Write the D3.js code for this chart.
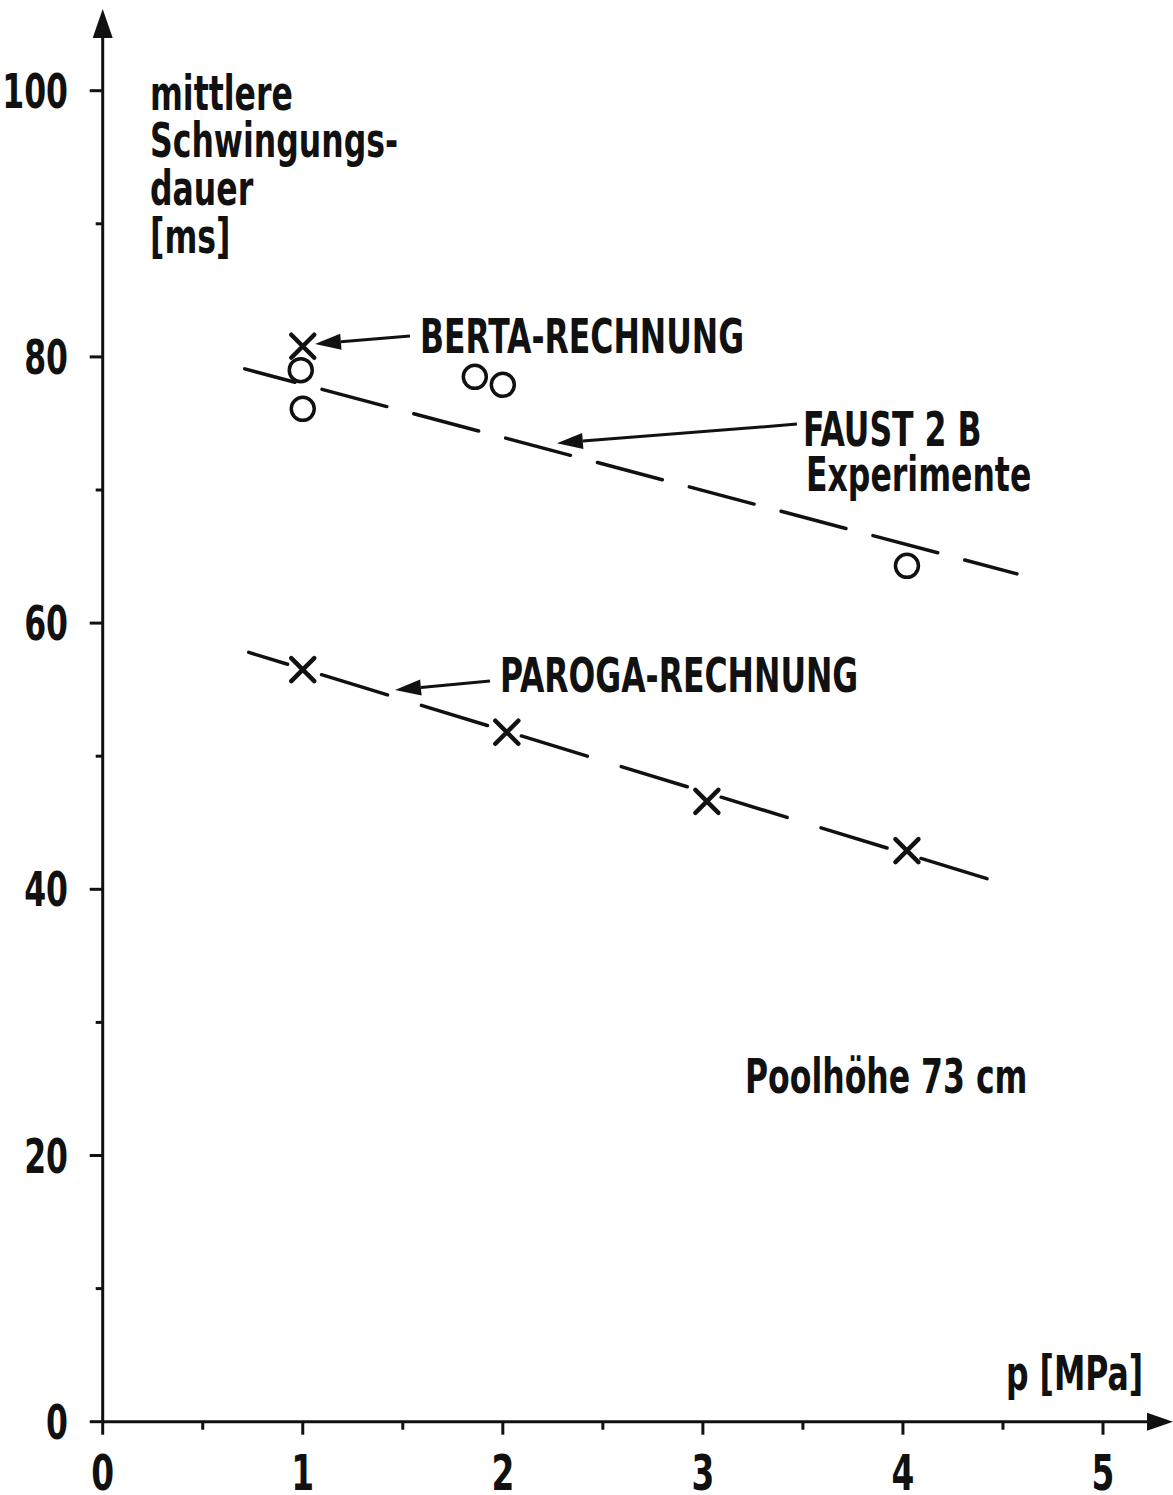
<!DOCTYPE html>
<html>
<head>
<meta charset="utf-8">
<script src="https://cdn.jsdelivr.net/npm/d3@7"></script>
<style>
  body { margin: 0; background: #fff; }
  svg text { font-family: "Liberation Sans Narrow", "DejaVu Sans Condensed", "Liberation Sans", sans-serif; font-weight: bold; fill: #111; }
</style>
</head>
<body>
<svg id="chart" width="1173" height="1495"></svg>
<script>
// FAUST 2B experiments (circles)
var faustP = [0.99, 1.0, 1.86, 2.0, 4.02];
var faustT = [79.0, 76.1, 78.5, 77.9, 64.3];
// BERTA calculation (cross)
var bertaP = [1.0];
var bertaT = [80.8];
// PAROGA calculation (crosses)
var parogaP = [1.0, 2.02, 3.02, 4.02];
var parogaT = [56.5, 51.8, 46.6, 42.9];
// dashed trend lines
var faustFitP = [0.71, 4.57];
var faustFitT = [79.1, 63.7];
var parogaFitP = [0.73, 4.42];
var parogaFitT = [57.8, 40.8];

var xTicks = [0, 1, 2, 3, 4, 5];
var xMinor = [0.5, 1.5, 2.5, 3.5, 4.5];
var yTicks = [0, 20, 40, 60, 80, 100];
var yMinor = [10, 30, 50, 70, 90];

var x = d3.scaleLinear().domain([0, 5]).range([102.7, 1103]);
var y = d3.scaleLinear().domain([0, 100]).range([1421.7, 90.7]);

var svg = d3.select("#chart");
var sx = 0.73; // squeeze the condensed font to the narrow lettering of the original

function label(txt, px, py, size, anchor) {
  var g = svg.append("g")
      .attr("transform", "translate(" + px + "," + py + ") scale(" + sx + ",1)");
  g.append("text")
      .attr("font-size", size)
      .attr("text-anchor", anchor || "start")
      .text(txt);
  return g;
}

// axes
var axis = svg.append("g").attr("stroke", "#111").attr("stroke-width", 3);
axis.append("line")
    .attr("x1", x(0)).attr("x2", 1150)
    .attr("y1", y(0)).attr("y2", y(0));
axis.append("line")
    .attr("x1", x(0)).attr("x2", x(0))
    .attr("y1", y(0)).attr("y2", 36);

svg.append("path")
    .attr("d", "M1173," + y(0) + "L1147," + (y(0) - 9) + "L1147," + (y(0) + 9) + "Z")
    .attr("fill", "#111");
svg.append("path")
    .attr("d", "M" + x(0) + ",9L" + (x(0) - 10) + ",38L" + (x(0) + 10) + ",38Z")
    .attr("fill", "#111");

axis.selectAll(".xt").data(xTicks).enter().append("line")
    .attr("x1", function(d) { return x(d); }).attr("x2", function(d) { return x(d); })
    .attr("y1", y(0)).attr("y2", y(0) + 13);
axis.selectAll(".xm").data(xMinor).enter().append("line")
    .attr("x1", function(d) { return x(d); }).attr("x2", function(d) { return x(d); })
    .attr("y1", y(0)).attr("y2", y(0) + 8);
axis.selectAll(".yt").data(yTicks).enter().append("line")
    .attr("x1", x(0) - 13).attr("x2", x(0))
    .attr("y1", function(d) { return y(d); }).attr("y2", function(d) { return y(d); });
axis.selectAll(".ym").data(yMinor).enter().append("line")
    .attr("x1", x(0) - 7).attr("x2", x(0))
    .attr("y1", function(d) { return y(d); }).attr("y2", function(d) { return y(d); });

xTicks.forEach(function(d) { label(d, x(d), 1490, 50, "middle"); });
yTicks.forEach(function(d) { label(d, 68, y(d) + 17, 48, "end"); });

// axis titles
["mittlere", "Schwingungs-", "dauer", "[ms]"].forEach(function(s, i) {
  label(s, 150, [110, 157, 205, 253][i], 48);
});
label("p [MPa]", 1006, 1390, 48);

// dashed lines, the dash pattern is anchored at the right-hand end
var line = d3.line()
    .x(function(d) { return x(d[0]); })
    .y(function(d) { return y(d[1]); });

function dashed(ps, ts, dash, gap, endInto) {
  var path = svg.append("path")
      .datum(d3.zip(ps, ts))
      .attr("d", line)
      .attr("fill", "none").attr("stroke", "#111").attr("stroke-width", 3.5)
      .attr("stroke-linecap", "round")
      .attr("stroke-dasharray", dash + "," + gap);
  var len = path.node().getTotalLength(), per = dash + gap;
  path.attr("stroke-dashoffset", ((endInto - len) % per + per) % per);
}
dashed(faustFitP, faustFitT, 67, 28, 54);
dashed(parogaFitP, parogaFitT, 69, 35.5, 69);

// markers
svg.selectAll(".circ").data(d3.zip(faustP, faustT)).enter().append("circle")
    .attr("cx", function(d) { return x(d[0]); })
    .attr("cy", function(d) { return y(d[1]); })
    .attr("r", 11.5)
    .attr("fill", "none").attr("stroke", "#111").attr("stroke-width", 3.5);

var crossPts = d3.zip(bertaP.concat(parogaP), bertaT.concat(parogaT));
var h = 11.5;
svg.selectAll(".cross").data(crossPts).enter().append("path")
    .attr("transform", function(d) { return "translate(" + x(d[0]) + "," + y(d[1]) + ")"; })
    .attr("d", "M" + (-h) + "," + (-h) + "L" + h + "," + h + "M" + (-h) + "," + h + "L" + h + "," + (-h))
    .attr("fill", "none").attr("stroke", "#111").attr("stroke-width", 4.5)
    .attr("stroke-linecap", "round");

// annotation arrows
var arrows = [
  {from: [1.536, 81.57], to: [1.061, 80.97]},
  {from: [3.47, 74.95], to: [2.27, 73.52]},
  {from: [1.936, 55.65], to: [1.461, 54.97]}
];
arrows.forEach(function(a) {
  var x1 = x(a.from[0]), y1 = y(a.from[1]), x2 = x(a.to[0]), y2 = y(a.to[1]);
  var ang = Math.atan2(y2 - y1, x2 - x1);
  var L = 26, W = 8;
  var bx = x2 - L * Math.cos(ang), by = y2 - L * Math.sin(ang);
  svg.append("line")
      .attr("x1", x1).attr("y1", y1).attr("x2", bx).attr("y2", by)
      .attr("stroke", "#111").attr("stroke-width", 3);
  svg.append("path")
      .attr("d", "M" + x2 + "," + y2 +
        "L" + (bx - W * Math.sin(ang)) + "," + (by + W * Math.cos(ang)) +
        "L" + (bx + W * Math.sin(ang)) + "," + (by - W * Math.cos(ang)) + "Z")
      .attr("fill", "#111");
});

label("BERTA-RECHNUNG", 420, 353, 48);
label("FAUST 2 B", 803, 446, 48);
label("Experimente", 806, 491, 48);
label("PAROGA-RECHNUNG", 500, 692, 48);
label("Poolhöhe 73 cm", 745, 1093, 48);
</script>
</body>
</html>
